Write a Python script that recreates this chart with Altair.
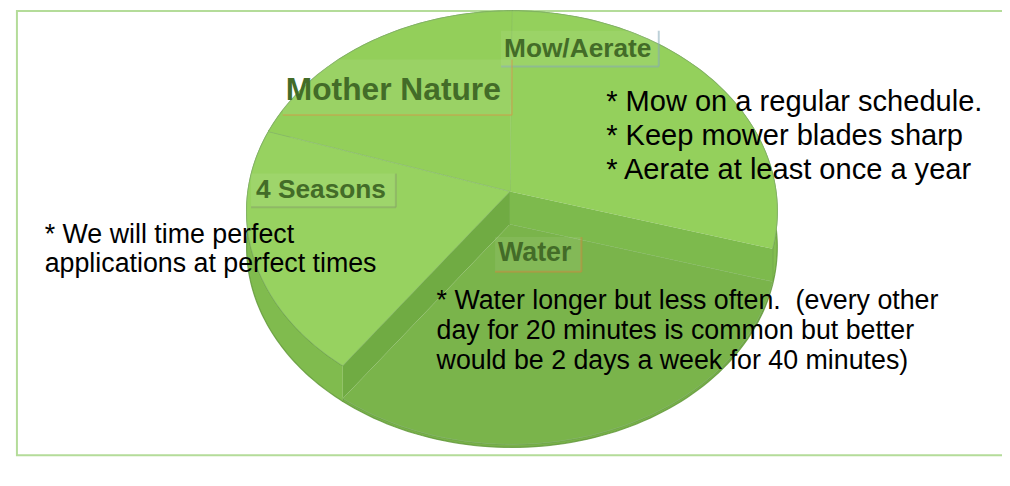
import json
import altair as alt
import pandas as pd

# ---------------- data ----------------
categories = ["Mow/Aerate", "Water", "4 Seasons", "Mother Nature"]
values = [28, 33, 20.5, 18.5]
lowered = ["Water"]          # slice drawn sunk below the others

right_notes = ["* Mow on a regular schedule.", "* Keep mower blades sharp", "* Aerate at least once a year"]
left_notes = ["* We will time perfect", "applications at perfect times"]
water_notes = ["* Water longer but less often.\u00a0 (every other",
               "day for 20 minutes is common but better",
               "would be 2 days a week for 40 minutes)"]

face_colors = ["#94d05c", "#7ab44b", "#97d260", "#93cf5a"]
wall_colors = ["#82bd50", "#78b149", "#80bb4e", "#80bb4e"]

# ---------------- geometry (view pixels) ----------------
W, H = 1002, 478
CX, CY, RX, RY = 508.0, 203.0, 267.5, 202.0   # top-face ellipse
AX, AY = 506.0, 183.0                          # perspective apex
DEPTH, DROP, N = 36, 33, 72

xs = alt.Scale(domain=[0, W], range=[0, W], nice=False, zero=False)
ys = alt.Scale(domain=[0, H], range=[0, H], nice=False, zero=False)

df = pd.DataFrame({"category": categories, "value": values, "idx": list(range(len(categories)))})
IS_LOW = f"indexof({json.dumps(lowered)}, datum.category) >= 0"

base = (
    alt.Chart(df)
    .transform_joinaggregate(total="sum(value)")
    .transform_window(cum="sum(value)", sort=[alt.SortField("idx", order="ascending")], frame=[None, 0])
    .transform_calculate(
        a0="2*PI*(datum.cum - datum.value)/datum.total",
        a1="2*PI*datum.cum/datum.total",
        drop=f"{IS_LOW} ? {DROP} : 0",
    )
)

# outer side walls
walls = (
    base.transform_calculate(steps=f"sequence(0, {2 * N + 2})")
    .transform_flatten(["steps"])
    .transform_calculate(
        ang=f"datum.a0 + (datum.a1 - datum.a0) * (datum.steps <= {N} ? datum.steps : {2 * N + 1} - datum.steps) / {N}",
    )
    .transform_calculate(
        px=f"{CX} + {RX} * sin(datum.ang)",
        py=f"{CY} - {RY} * cos(datum.ang) + (datum.steps <= {N} ? datum.drop : {DEPTH})",
    )
    .mark_line(filled=True, opacity=1, fillOpacity=1, stroke="#5f9637", strokeWidth=1.2, strokeOpacity=0.8)
    .encode(
        x=alt.X("px:Q", scale=xs, axis=None),
        y=alt.Y("py:Q", scale=ys, axis=None),
        color=alt.Color("category:N", scale=alt.Scale(domain=categories, range=wall_colors), legend=None),
        order=alt.Order("steps:Q"),
    )
)

# top faces
faces = (
    base.transform_calculate(steps=f"sequence(-1, {N + 1})")
    .transform_flatten(["steps"])
    .transform_calculate(ang=f"datum.a0 + (datum.a1 - datum.a0) * datum.steps / {N}")
    .transform_calculate(
        px=f"datum.steps < 0 ? {AX} : {CX} + {RX} * sin(datum.ang)",
        py=f"(datum.steps < 0 ? {AY} : {CY} - {RY} * cos(datum.ang)) + datum.drop",
    )
    .mark_line(filled=True, opacity=1, fillOpacity=1, stroke="#86b46c", strokeWidth=1, strokeOpacity=0.7)
    .encode(
        x=alt.X("px:Q", scale=xs, axis=None),
        y=alt.Y("py:Q", scale=ys, axis=None),
        color=alt.Color("category:N", scale=alt.Scale(domain=categories, range=face_colors), legend=None),
        order=alt.Order("steps:Q"),
    )
)

# cut walls of neighbours seen inside the sunk slice
cavity = (
    base.transform_filter(IS_LOW)
    .transform_calculate(side="[0, 1]")
    .transform_flatten(["side"])
    .transform_calculate(k="[0, 1, 2, 3]")
    .transform_flatten(["k"])
    .transform_calculate(ang="datum.side == 0 ? datum.a0 : datum.a1")
    .transform_calculate(
        px=f"(datum.k == 0 || datum.k == 3) ? {AX} : {CX} + {RX} * sin(datum.ang)",
        py=f"((datum.k == 0 || datum.k == 3) ? {AY} : {CY} - {RY} * cos(datum.ang)) + (datum.k >= 2 ? datum.drop : 0)",
    )
    .mark_line(filled=True, opacity=1, fillOpacity=1, strokeWidth=0)
    .encode(
        x=alt.X("px:Q", scale=xs, axis=None),
        y=alt.Y("py:Q", scale=ys, axis=None),
        color=alt.Color("side:N", scale=alt.Scale(domain=[0, 1], range=["#7dba4d", "#70ab43"]), legend=None),
        order=alt.Order("k:Q"),
    )
)

one = pd.DataFrame({"o": [0]})


def px(v):
    return v - 8


# outer frame
frame = alt.Chart(one).mark_rect(fill="white", stroke="#b4dc99", strokeWidth=2).encode(
    x=alt.value(px(17)), x2=alt.value(W + 20), y=alt.value(1), y2=alt.value(px(457))
)

# label boxes: (left, top, right, bottom, border colour)
boxes = [
    (505, 29, 664, 65, "#86aab8"),
    (285, 58, 516, 114, "#c9a24a"),
    (253, 173, 399, 207, "#86a466"),
    (499, 237, 586, 272, "#c88a3e"),
]
box_layers = []
for l, t, r, b, c in boxes:
    box_layers.append(alt.Chart(one).mark_rect(fill="white", opacity=0.07).encode(
        x=alt.value(px(l)), x2=alt.value(px(r)), y=alt.value(px(t)), y2=alt.value(px(b))))
    box_layers.append(alt.Chart(one).mark_rule(color=c, strokeWidth=2, opacity=0.55).encode(
        x=alt.value(px(l)), x2=alt.value(px(r)), y=alt.value(px(b))))
    box_layers.append(alt.Chart(one).mark_rule(color=c, strokeWidth=2, opacity=0.55).encode(
        x=alt.value(px(r)), y=alt.value(px(t)), y2=alt.value(px(b))))

# slice labels: (category index, x, baseline, size)
label_pos = [(0, 508, 55, 26.5), (3, 288, 99, 32), (2, 258, 198, 26.5), (1, 502, 261, 27)]
labels = []
for i, x, y, s in label_pos:
    labels.append(alt.Chart(one).mark_text(
        text=categories[i], font="Liberation Sans", fontWeight="bold", fontSize=s,
        color="#436c28", align="left", baseline="alphabetic",
    ).encode(x=alt.value(px(x)), y=alt.value(px(y))))

notes = []
for lines, x, y0, dy, s in [(right_notes, 611, 110, 34, 29.3), (left_notes, 45, 243, 29, 27),
                            (water_notes, 440, 310, 30, 27)]:
    for j, line in enumerate(lines):
        notes.append(alt.Chart(one).mark_text(
            text=line, font="Liberation Sans", fontSize=s, color="#000000",
            align="left", baseline="alphabetic",
        ).encode(x=alt.value(px(x)), y=alt.value(px(y0 + j * dy))))

chart = alt.layer(frame, walls, faces, cavity, *box_layers, *labels, *notes).resolve_scale(
    color="independent"
).properties(
    width=W, height=H, autosize=alt.AutoSizeParams(type="none"), padding=0, background="white"
).configure_view(stroke=None)

chart.save("out.html", embed_options={"renderer": "svg", "actions": False})
